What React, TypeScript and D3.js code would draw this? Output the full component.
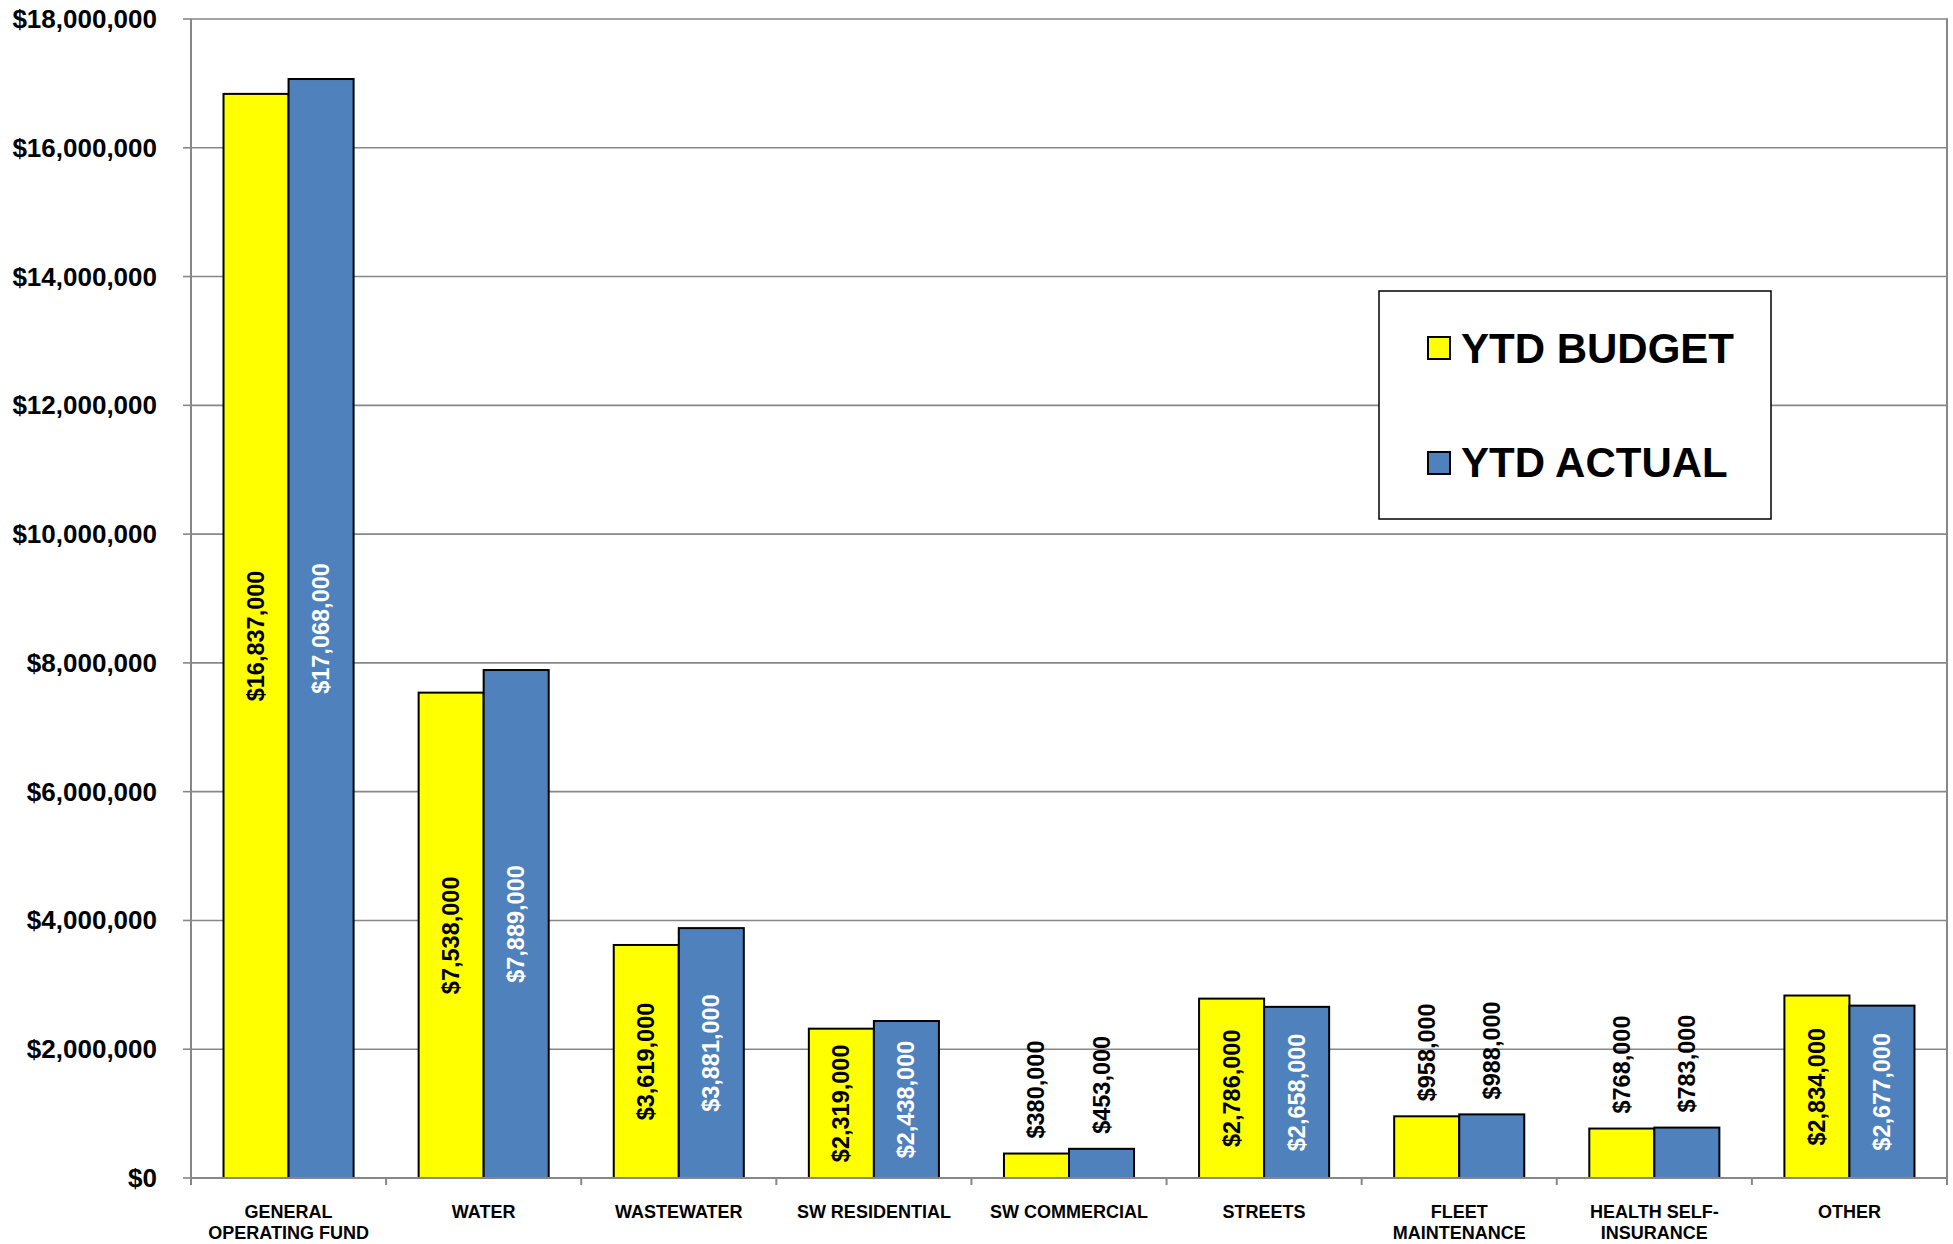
import React from "react";
import * as d3 from "d3";

const categories: string[][] = [
  ["GENERAL", "OPERATING FUND"],
  ["WATER"],
  ["WASTEWATER"],
  ["SW RESIDENTIAL"],
  ["SW COMMERCIAL"],
  ["STREETS"],
  ["FLEET", "MAINTENANCE"],
  ["HEALTH SELF-", "INSURANCE"],
  ["OTHER"],
];
const budget = [16837000, 7538000, 3619000, 2319000, 380000, 2786000, 958000, 768000, 2834000];
const actual = [17068000, 7889000, 3881000, 2438000, 453000, 2658000, 988000, 783000, 2677000];
const yTicks = [0, 2000000, 4000000, 6000000, 8000000, 10000000, 12000000, 14000000, 16000000, 18000000];
const seriesNames = ["YTD BUDGET", "YTD ACTUAL"];

const W = 1953;
const H = 1244;
const M = { left: 191, right: 1947, top: 19, bottom: 1178 };
const FONT = "'Liberation Sans', Arial, Helvetica, sans-serif";
const YELLOW = "#FFFF00";
const BLUE = "#4F81BD";
const GRID = "#878787";

const fmt = (v: number) => "$" + d3.format(",")(v);

export default function App() {
  const x = d3
    .scaleBand<number>()
    .domain(categories.map((_, i) => i))
    .range([M.left, M.right]);
  const y = d3.scaleLinear().domain([0, 18000000]).range([M.bottom, M.top]);
  const bw = x.bandwidth() / 3;
  const series = [
    { name: seriesNames[0], values: budget, fill: YELLOW, inText: "#000" },
    { name: seriesNames[1], values: actual, fill: BLUE, inText: "#fff" },
  ];
  const labelFont = 23.5;
  const labelLen = (s: string) => {
    // Arial bold metrics: digits and $ are 0.556em, comma 0.278em
    let em = 0;
    for (const c of s) em += c === "," ? 0.278 : 0.556;
    return em * labelFont;
  };

  return (
    <div style={{ position: "absolute", left: 0, top: 0 }}>
      <svg width={W} height={H} style={{ display: "block", background: "#fff" }} fontFamily={FONT}>
        {/* gridlines */}
        {yTicks.map((t) => (
          <line key={"g" + t} x1={M.left} x2={M.right} y1={y(t)} y2={y(t)} stroke={GRID} strokeWidth={1.6} />
        ))}
        {/* right border */}
        <line x1={M.right} x2={M.right} y1={M.top - 0.8} y2={M.bottom} stroke={GRID} strokeWidth={2} />

        {/* bars */}
        {series.map((s, si) =>
          s.values.map((v, i) => (
            <rect
              key={s.name + i}
              x={(x(i) as number) + bw / 2 + si * bw}
              y={y(v)}
              width={bw}
              height={y(0) - y(v)}
              fill={s.fill}
              stroke="#000"
              strokeWidth={2}
            />
          ))
        )}

        {/* y axis */}
        <line x1={M.left} x2={M.left} y1={M.top} y2={M.bottom + 7} stroke={GRID} strokeWidth={2} />
        {yTicks.map((t) => (
          <g key={"yt" + t}>
            <line x1={M.left - 8} x2={M.left} y1={y(t)} y2={y(t)} stroke={GRID} strokeWidth={1.6} />
            <text
              x={157}
              y={y(t)}
              textAnchor="end"
              dominantBaseline="central"
              fontSize={26}
              fontWeight="bold"
              fill="#000"
            >
              {fmt(t)}
            </text>
          </g>
        ))}

        {/* x axis */}
        <line x1={M.left} x2={M.right} y1={M.bottom} y2={M.bottom} stroke={GRID} strokeWidth={2} />
        {categories.map((_, i) => (
          <line
            key={"xt" + i}
            x1={(x(i) as number) + x.bandwidth()}
            x2={(x(i) as number) + x.bandwidth()}
            y1={M.bottom}
            y2={M.bottom + 7}
            stroke={GRID}
            strokeWidth={2}
          />
        ))}
        {categories.map((lines, i) => (
          <text
            key={"xl" + i}
            x={(x(i) as number) + x.bandwidth() / 2}
            y={1218}
            textAnchor="middle"
            fontSize={18}
            fontWeight="bold"
            fill="#000"
          >
            {lines.map((l, li) => (
              <tspan key={li} x={(x(i) as number) + x.bandwidth() / 2} dy={li === 0 ? 0 : 21}>
                {l}
              </tspan>
            ))}
          </text>
        ))}

        {/* data labels */}
        {series.map((s, si) =>
          s.values.map((v, i) => {
            const cx = (x(i) as number) + bw / 2 + si * bw + bw / 2;
            const txt = fmt(v);
            const len = labelLen(txt);
            const barH = y(0) - y(v);
            const inside = barH > len + 20;
            const cy = inside ? (y(v) + y(0)) / 2 : y(v) - 15 - len / 2;
            return (
              <text
                key={"dl" + s.name + i}
                transform={`translate(${cx},${cy}) rotate(-90)`}
                textAnchor="middle"
                dominantBaseline="central"
                fontSize={labelFont}
                fontWeight="bold"
                fill={inside ? s.inText : "#000"}
              >
                {txt}
              </text>
            );
          })
        )}

        {/* legend */}
        <rect x={1379} y={291} width={392} height={228} fill="#fff" stroke="#000" strokeWidth={1.5} />
        {series.map((s, si) => (
          <g key={"lg" + si}>
            <rect
              x={1428}
              y={337 + si * 115}
              width={22}
              height={22}
              fill={s.fill}
              stroke="#000"
              strokeWidth={2}
            />
            <text x={1461} y={363 + si * 114} fontSize={42} fontWeight="bold" fill="#000">
              {s.name}
            </text>
          </g>
        ))}
      </svg>
    </div>
  );
}
